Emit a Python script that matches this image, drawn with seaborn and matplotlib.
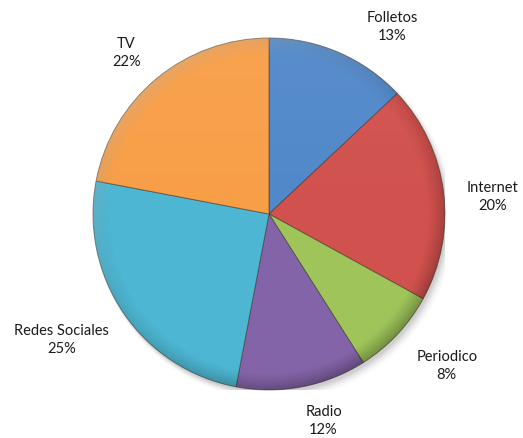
import numpy as np
import matplotlib
matplotlib.use("Agg")
import matplotlib.pyplot as plt
import seaborn as sns
from matplotlib.patches import Circle

categories = ["Folletos", "Internet", "Periodico", "Radio", "Redes Sociales", "TV"]
values = [13, 20, 8, 12, 25, 22]
colors = ["#5088C9", "#D1514E", "#9EC45A", "#8464A8", "#4DB6D2", "#F89E47"]
# label placement (in pie-radius units), as Excel's best-fit placed them
label_pos = [(0.70, 1.07), (1.27, 0.10), (1.01, -0.86), (0.31, -1.17), (-1.18, -0.71), (-0.81, 0.92)]

sns.set_theme(style="white")
plt.rcParams["font.family"] = ["Lato", "DejaVu Sans"]

fig = plt.figure(figsize=(5.23, 4.39), dpi=100)
cx, cy, r = 269, 215, 176
W, H = 523, 439
ax = fig.add_axes([(cx - r) / W, (H - cy - r) / H, 2 * r / W, 2 * r / H])

# soft shadow
for i, a in enumerate(np.linspace(0.05, 0.012, 6)):
    ax.add_patch(Circle((0.012 + 0.004 * i, -0.018 - 0.004 * i), 1.0 + 0.004 * i,
                        color="black", alpha=a, lw=0, zorder=0))

labels = [f"{c}\n{v}%" for c, v in zip(categories, values)]
wedges, texts = ax.pie(values, labels=labels, colors=sns.color_palette(colors),
                       startangle=90, counterclock=False, labeldistance=1.28,
                       wedgeprops=dict(edgecolor=(0.25, 0.2, 0.15, 0.55), linewidth=0.7),
                       textprops=dict(fontsize=10.5, color="#1a1a1a"))
for w in wedges:
    w.set_zorder(2)
for t, (px, py) in zip(texts, label_pos):
    t.set_position((px, py))
    t.set_ha("center")
    t.set_va("center")
    t.set_multialignment("center")
    t.set_linespacing(1.35)

# bevel / shading overlay
n = 500
yy, xx = np.mgrid[1:-1:n * 1j, -1:1:n * 1j]
rr = np.sqrt(xx ** 2 + yy ** 2) + 1e-9
rim = np.clip((rr - 0.9) / 0.1, 0, 1) ** 1.3
dirn = (-xx * 0.6 + yy * 0.8) / rr  # +1 toward top-left
dark = np.zeros((n, n, 4))
dark[..., 3] = rim * (0.10 + 0.18 * np.clip(-dirn, 0, 1))
im = ax.imshow(dark, extent=[-1, 1, -1, 1], zorder=3, interpolation="bilinear")
im.set_clip_path(Circle((0, 0), 1.0, transform=ax.transData))
hl = np.zeros((n, n, 4))
hl[..., :3] = 1
hl[..., 3] = rim * 0.22 * np.clip(dirn, 0, 1) + 0.05 * np.clip(yy, 0, 1) * (1 - rim)
im2 = ax.imshow(hl, extent=[-1, 1, -1, 1], zorder=3, interpolation="bilinear")
im2.set_clip_path(Circle((0, 0), 1.0, transform=ax.transData))

ax.set_xlim(-1, 1)
ax.set_ylim(-1, 1)
ax.set_aspect("equal")
ax.axis("off")

fig.savefig("out.png", dpi=100, facecolor="white")
